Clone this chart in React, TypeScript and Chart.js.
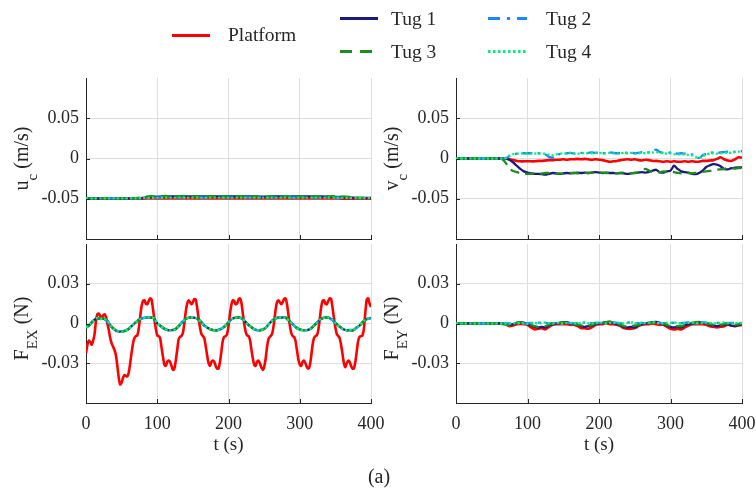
import React, { useEffect, useRef } from 'react';
import { Chart, registerables } from 'chart.js';

Chart.register(...registerables);

// ---------------- data ----------------
const seriesNames = ['Platform', 'Tug 1', 'Tug 2', 'Tug 3', 'Tug 4'];
const xTickValues = [0, 100, 200, 300, 400];
const xTickLabels = ['0', '100', '200', '300', '400'];
const velocityTicks = [-0.05, 0, 0.05];
const velocityTickLabels = ['-0.05', '0', '0.05'];
const forceTicks = [-0.03, 0, 0.03];
const forceTickLabels = ['-0.03', '0', '0.03'];

const tU = [0, 10, 20, 30, 40, 50, 60, 70, 80, 90, 100, 110, 120, 130, 140, 150, 160, 170, 180, 190, 200,
  210, 220, 230, 240, 250, 260, 270, 280, 290, 300, 310, 320, 330, 340, 350, 360, 370, 380, 390, 400];

const uPlatform = [-0.05, -0.05, -0.05, -0.05, -0.05, -0.05, -0.05, -0.0499, -0.0498, -0.0497,
  -0.0497, -0.0497, -0.0497, -0.0497, -0.0497, -0.0497, -0.0497, -0.0497, -0.0497, -0.0497,
  -0.0497, -0.0497, -0.0497, -0.0497, -0.0497, -0.0497, -0.0497, -0.0497, -0.0497, -0.0497,
  -0.0497, -0.0497, -0.0497, -0.0497, -0.0497, -0.0497, -0.0498, -0.0499, -0.0499, -0.0499, -0.0499];
const uTug1 = [-0.0495, -0.0495, -0.0495, -0.0495, -0.0495, -0.0495, -0.0495, -0.0494, -0.0488, -0.0478,
  -0.0474, -0.0472, -0.0471, -0.0472, -0.0471, -0.047, -0.0472, -0.0471, -0.047, -0.0472,
  -0.0471, -0.0472, -0.047, -0.0471, -0.0472, -0.0473, -0.0472, -0.0471, -0.0473, -0.0472,
  -0.0472, -0.0471, -0.0473, -0.0472, -0.0474, -0.0476, -0.0478, -0.0484, -0.0488, -0.049, -0.049];
const uTug2 = [-0.0495, -0.0495, -0.0495, -0.0495, -0.0495, -0.0495, -0.0495, -0.0494, -0.049, -0.0486,
  -0.0485, -0.0484, -0.0485, -0.0484, -0.0485, -0.0484, -0.0485, -0.0485, -0.0484, -0.0485,
  -0.0484, -0.0485, -0.0485, -0.0484, -0.0485, -0.0484, -0.0485, -0.0485, -0.0484, -0.0485,
  -0.0485, -0.0484, -0.0485, -0.0485, -0.0486, -0.0487, -0.0488, -0.049, -0.0492, -0.0492, -0.0492];
const uTug3 = [-0.0495, -0.0495, -0.0495, -0.0495, -0.0495, -0.0495, -0.0495, -0.0492, -0.048, -0.0468,
  -0.0474, -0.0466, -0.0472, -0.047, -0.0466, -0.0472, -0.047, -0.0472, -0.0468, -0.0472,
  -0.0474, -0.047, -0.0468, -0.0472, -0.0474, -0.047, -0.0472, -0.0474, -0.0472, -0.0468,
  -0.0474, -0.0472, -0.0468, -0.0474, -0.047, -0.0468, -0.0474, -0.0476, -0.0486, -0.049, -0.049];
const uTug4 = [-0.0496, -0.0496, -0.0496, -0.0496, -0.0496, -0.0496, -0.0496, -0.0495, -0.0491, -0.0488,
  -0.0487, -0.0486, -0.0487, -0.0486, -0.0487, -0.0486, -0.0487, -0.0486, -0.0487, -0.0486,
  -0.0487, -0.0486, -0.0487, -0.0486, -0.0487, -0.0486, -0.0487, -0.0486, -0.0487, -0.0486,
  -0.0487, -0.0486, -0.0487, -0.0486, -0.0487, -0.0486, -0.0488, -0.049, -0.0492, -0.0493, -0.0493];

const tV = [0, 5, 10, 15, 20, 25, 30, 35, 40, 45, 50, 55, 60, 65, 70, 75, 80, 85, 90, 95,
  100, 105, 110, 115, 120, 125, 130, 135, 140, 145, 150, 155, 160, 165, 170, 175, 180, 185, 190, 195,
  200, 205, 210, 215, 220, 225, 230, 235, 240, 245, 250, 255, 260, 265, 270, 275, 280, 285, 290, 295,
  300, 305, 310, 315, 320, 325, 330, 335, 340, 345, 350, 355, 360, 365, 370, 375, 380, 385, 390, 395, 400];

const vPlatform = [0, 0, 0, 0, 0, 0, 0, 0, 0, 0,
  0, 0, 0, 0, 0, -0.001, -0.002, -0.003, -0.0035, -0.0035,
  -0.0035, -0.0035, -0.0035, -0.003, -0.003, -0.0025, -0.002, -0.002, -0.0015, -0.0015,
  -0.001, -0.0015, -0.001, -0.001, -0.0005, -0.001, -0.0005, -0.001, -0.0015, -0.001,
  -0.0015, -0.002, -0.003, -0.004, -0.0035, -0.003, -0.002, -0.0015, -0.001, -0.0015,
  -0.001, -0.002, -0.0025, -0.0015, -0.002, -0.003, -0.003, -0.0035, -0.004, -0.0035,
  -0.004, -0.0035, -0.004, -0.004, -0.0035, -0.004, -0.0035, -0.004, -0.004, -0.003,
  -0.003, -0.0025, -0.002, -0.0005, 0.0015, -0.001, -0.0025, -0.003, -0.001, 0.0015, 0.001];
const vTug1 = [0, 0, 0, 0, 0, 0, 0, 0, 0, 0,
  0, 0, 0, 0, 0, -0.002, -0.005, -0.009, -0.013, -0.016,
  -0.0175, -0.0185, -0.019, -0.019, -0.0195, -0.02, -0.019, -0.018, -0.0185, -0.019,
  -0.0185, -0.018, -0.0185, -0.018, -0.0175, -0.018, -0.0175, -0.018, -0.0175, -0.017,
  -0.0175, -0.018, -0.0175, -0.018, -0.018, -0.0185, -0.018, -0.0185, -0.019, -0.0185,
  -0.018, -0.0175, -0.017, -0.0175, -0.0165, -0.015, -0.014, -0.017, -0.0175, -0.016,
  -0.015, -0.009, -0.013, -0.016, -0.017, -0.0175, -0.019, -0.0195, -0.018, -0.015,
  -0.0105, -0.0085, -0.007, -0.0075, -0.0095, -0.013, -0.0135, -0.012, -0.0115, -0.011, -0.011];
const vTug2 = [0, 0, 0, 0, 0, 0, 0, 0, 0, 0,
  0, 0, 0, 0, 0.0005, 0.003, 0.005, 0.006, 0.0065, 0.0065,
  0.0065, 0.0065, 0.006, 0.0065, 0.006, 0.005, 0.002, 0.001, 0.004, 0.0055,
  0.006, 0.0065, 0.007, 0.006, 0.0065, 0.007, 0.0065, 0.007, 0.0075, 0.007,
  0.0075, 0.0065, 0.007, 0.0075, 0.007, 0.0065, 0.007, 0.0075, 0.007, 0.0075,
  0.0065, 0.007, 0.008, 0.0075, 0.008, 0.0095, 0.011, 0.008, 0.007, 0.0065,
  0.0075, 0.0065, 0.006, 0.0065, 0.006, 0.0055, 0.005, 0.003, 0.0005, 0.004,
  0.006, 0.007, 0.0075, 0.007, 0.0075, 0.008, 0.0085, 0.008, 0.0085, 0.009, 0.009];
const vTug3 = [0, 0, 0, 0, 0, 0, 0, 0, 0, 0,
  0, 0, 0, -0.001, -0.006, -0.013, -0.0155, -0.017, -0.018, -0.0185,
  -0.019, -0.019, -0.0185, -0.019, -0.0185, -0.018, -0.018, -0.0185, -0.019, -0.0185,
  -0.019, -0.0185, -0.018, -0.018, -0.0185, -0.018, -0.0175, -0.018, -0.0175, -0.018,
  -0.0175, -0.0175, -0.018, -0.0175, -0.018, -0.0185, -0.018, -0.0175, -0.018, -0.0185,
  -0.018, -0.017, -0.015, -0.013, -0.015, -0.017, -0.0175, -0.017, -0.016, -0.0165,
  -0.016, -0.017, -0.018, -0.0185, -0.018, -0.018, -0.0185, -0.018, -0.017, -0.0165,
  -0.016, -0.0155, -0.015, -0.014, -0.0135, -0.013, -0.012, -0.012, -0.0125, -0.012, -0.012];
const vTug4 = [0, 0, 0, 0, 0, 0, 0, 0, 0, 0,
  0, 0, 0, 0, 0.001, 0.004, 0.0055, 0.006, 0.006, 0.0065,
  0.0065, 0.006, 0.006, 0.0065, 0.006, 0.006, 0.0045, 0.004, 0.005, 0.006,
  0.0065, 0.006, 0.007, 0.0065, 0.006, 0.0065, 0.007, 0.0065, 0.0065, 0.007,
  0.007, 0.0065, 0.0065, 0.007, 0.0065, 0.006, 0.0065, 0.007, 0.0065, 0.007,
  0.006, 0.0065, 0.007, 0.0065, 0.007, 0.0075, 0.008, 0.007, 0.0065, 0.006,
  0.0065, 0.0055, 0.005, 0.0055, 0.005, 0.0045, 0.004, 0.002, 0.0005, 0.003,
  0.005, 0.006, 0.0065, 0.006, 0.0065, 0.007, 0.0075, 0.007, 0.008, 0.0085, 0.0085];

const tFx = [0, 2, 4, 6, 8, 10, 12, 14, 16, 18, 20, 22, 24, 26, 28, 30, 32, 34, 36, 38,
  40, 42, 44, 46, 48, 50, 52, 54, 56, 58, 60, 62, 64, 66, 68, 70, 72, 74, 76, 78,
  80, 82, 84, 86, 88, 90, 92, 94, 96, 98, 100, 102, 104, 106, 108, 110, 112, 114, 116, 118,
  120, 122, 124, 126, 128, 130, 132, 134, 136, 138, 140, 142, 144, 146, 148, 150, 152, 154, 156, 158,
  160, 162, 164, 166, 168, 170, 172, 174, 176, 178, 180, 182, 184, 186, 188, 190, 192, 194, 196, 198,
  200, 202, 204, 206, 208, 210, 212, 214, 216, 218, 220, 222, 224, 226, 228, 230, 232, 234, 236, 238,
  240, 242, 244, 246, 248, 250, 252, 254, 256, 258, 260, 262, 264, 266, 268, 270, 272, 274, 276, 278,
  280, 282, 284, 286, 288, 290, 292, 294, 296, 298, 300, 302, 304, 306, 308, 310, 312, 314, 316, 318,
  320, 322, 324, 326, 328, 330, 332, 334, 336, 338, 340, 342, 344, 346, 348, 350, 352, 354, 356, 358,
  360, 362, 364, 366, 368, 370, 372, 374, 376, 378, 380, 382, 384, 386, 388, 390, 392, 394, 396, 398, 400];

const fxPlatform = [
  -0.0225, -0.016, -0.013, -0.014, -0.016, -0.013, -0.008, 0.002, 0.007, 0.0075,
  0.0055, 0.004, 0.006, 0.007, 0.005, 0.0, -0.005, -0.011, -0.015, -0.0175,
  -0.02, -0.024, -0.032, -0.041, -0.046, -0.0445, -0.041, -0.039, -0.0395, -0.04,
  -0.037, -0.03, -0.022, -0.015, -0.011, -0.0095, -0.009, -0.004, 0.005, 0.013,
  0.017, 0.0175, 0.015, 0.0145, 0.017, 0.019, 0.018, 0.011, 0.003, -0.004,
  -0.009, -0.0095, -0.011, -0.018, -0.025, -0.031, -0.032, -0.029, -0.028, -0.029,
  -0.032, -0.035, -0.034, -0.028, -0.02, -0.012, -0.01, -0.0095, -0.007, 0.0,
  0.009, 0.015, 0.0175, 0.016, 0.0145, 0.016, 0.0185, 0.018, 0.012, 0.004,
  -0.003, -0.008, -0.0095, -0.011, -0.017, -0.024, -0.03, -0.032, -0.029, -0.028,
  -0.029, -0.032, -0.034, -0.034, -0.029, -0.021, -0.013, -0.01, -0.0095, -0.008,
  -0.002, 0.007, 0.014, 0.0175, 0.017, 0.0145, 0.015, 0.018, 0.019, 0.016,
  0.008, 0.0, -0.006, -0.009, -0.0095, -0.012, -0.019, -0.026, -0.031, -0.032,
  -0.029, -0.028, -0.03, -0.033, -0.035, -0.033, -0.027, -0.018, -0.012, -0.01,
  -0.009, -0.006, 0.001, 0.01, 0.016, 0.0175, 0.016, 0.0145, 0.016, 0.0185,
  0.019, 0.015, 0.007, -0.001, -0.007, -0.0095, -0.01, -0.013, -0.02, -0.027,
  -0.031, -0.032, -0.029, -0.028, -0.03, -0.033, -0.034, -0.032, -0.025, -0.016,
  -0.011, -0.0095, -0.009, -0.005, 0.003, 0.012, 0.017, 0.0175, 0.015, 0.0145,
  0.017, 0.019, 0.0185, 0.012, 0.004, -0.003, -0.008, -0.0095, -0.011, -0.016,
  -0.023, -0.03, -0.033, -0.03, -0.028, -0.029, -0.032, -0.034, -0.034, -0.029,
  -0.021, -0.013, -0.01, -0.0095, -0.009, -0.004, 0.008, 0.018, 0.019, 0.015, 0.0125];

const fxTug1 = [-0.003, -0.001, 0.002, 0.004, 0.0035, 0.0035, 0.002, -0.002, -0.0045, -0.006,
  -0.006, -0.0055, -0.004, -0.0015, 0.001, 0.003, 0.004, 0.0045, 0.0045, 0.004,
  0.0, -0.002, -0.004, -0.005, -0.005, -0.0045, -0.002, 0.001, 0.0035, 0.0045,
  0.0045, 0.004, 0.002, -0.001, -0.003, -0.0045, -0.005, -0.005, -0.004, -0.002,
  0.001, 0.0035, 0.0045, 0.0045, 0.0035, 0.0005, -0.002, -0.004, -0.005, -0.005,
  -0.004, -0.0015, 0.0015, 0.0035, 0.0045, 0.0045, 0.0045, 0.002, -0.0005, -0.003,
  -0.0045, -0.005, -0.005, -0.004, -0.0015, 0.001, 0.0035, 0.0045, 0.0045, 0.003,
  0.0005, -0.002, -0.004, -0.005, -0.005, -0.005, -0.003, -0.001, 0.002, 0.0035, 0.004];
const fxTug2 = [-0.0028, -0.001, 0.0022, 0.0042, 0.0036, 0.0034, 0.0018, -0.0022, -0.0046, -0.0058,
  -0.006, -0.0054, -0.0038, -0.0014, 0.0012, 0.0032, 0.0042, 0.0046, 0.0044, 0.0038,
  0.0002, -0.0022, -0.0042, -0.005, -0.0048, -0.0044, -0.0018, 0.0012, 0.0036, 0.0046,
  0.0044, 0.0038, 0.0018, -0.0012, -0.0032, -0.0046, -0.005, -0.0048, -0.0038, -0.0018,
  0.0012, 0.0036, 0.0046, 0.0044, 0.0034, 0.0004, -0.0022, -0.0042, -0.005, -0.0048,
  -0.0038, -0.0014, 0.0016, 0.0036, 0.0046, 0.0044, 0.0044, 0.0018, -0.0006, -0.0032,
  -0.0046, -0.005, -0.0048, -0.0038, -0.0014, 0.0012, 0.0036, 0.0046, 0.0044, 0.0028,
  0.0004, -0.0022, -0.0042, -0.005, -0.0048, -0.0048, -0.0028, -0.0008, 0.0022, 0.0036, 0.0042];
const fxTug3 = [-0.0032, -0.0012, 0.0018, 0.0038, 0.0034, 0.0036, 0.0022, -0.0018, -0.0044, -0.0062,
  -0.0062, -0.0056, -0.0042, -0.0016, 0.0008, 0.0028, 0.0038, 0.0044, 0.0046, 0.0042,
  0.0002, -0.0018, -0.0038, -0.0052, -0.0052, -0.0046, -0.0022, 0.0008, 0.0034, 0.0044,
  0.0046, 0.0042, 0.0022, -0.0008, -0.0028, -0.0044, -0.0052, -0.0052, -0.0042, -0.0022,
  0.0008, 0.0034, 0.0044, 0.0046, 0.0036, 0.0006, -0.0018, -0.0038, -0.0052, -0.0052,
  -0.0042, -0.0016, 0.0014, 0.0034, 0.0044, 0.0046, 0.0046, 0.0022, -0.0004, -0.0028,
  -0.0044, -0.0052, -0.0052, -0.0042, -0.0016, 0.0008, 0.0034, 0.0044, 0.0046, 0.0032,
  0.0006, -0.0018, -0.0038, -0.0052, -0.0052, -0.0052, -0.0032, -0.0012, 0.0018, 0.0034, 0.0038];
const fxTug4 = [-0.003, -0.0011, 0.002, 0.004, 0.0036, 0.0035, 0.002, -0.002, -0.0045, -0.006,
  -0.0061, -0.0055, -0.004, -0.0015, 0.001, 0.003, 0.004, 0.0045, 0.0045, 0.004,
  0.0001, -0.002, -0.004, -0.0051, -0.005, -0.0045, -0.002, 0.001, 0.0035, 0.0045,
  0.0045, 0.004, 0.002, -0.001, -0.003, -0.0045, -0.0051, -0.005, -0.004, -0.002,
  0.001, 0.0035, 0.0045, 0.0045, 0.0035, 0.0005, -0.002, -0.004, -0.0051, -0.005,
  -0.004, -0.0015, 0.0015, 0.0035, 0.0045, 0.0045, 0.0045, 0.002, -0.0005, -0.003,
  -0.0045, -0.0051, -0.005, -0.004, -0.0015, 0.001, 0.0035, 0.0045, 0.0045, 0.003,
  0.0005, -0.002, -0.004, -0.0051, -0.005, -0.005, -0.003, -0.001, 0.002, 0.0035, 0.004];

const fyPlatform = [0, 0, 0, 0, 0, 0, 0, 0, 0, 0,
  0, 0, 0, 0, -0.0005, -0.002, -0.0015, -0.0005, -0.0003, -0.0005,
  -0.001, -0.003, -0.0045, -0.004, -0.0035, -0.0045, -0.0025, -0.001, -0.0005, -0.0005,
  -0.0005, -0.0005, -0.001, -0.001, -0.002, -0.0035, -0.0035, -0.004, -0.003, -0.001,
  -0.0005, -0.0005, 0.0, -0.0005, -0.0005, -0.001, -0.002, -0.0035, -0.004, -0.004,
  -0.0035, -0.002, -0.001, -0.0005, -0.0005, 0.0, -0.0005, -0.001, -0.001, -0.0025,
  -0.004, -0.0045, -0.004, -0.0045, -0.003, -0.0015, -0.0005, -0.0005, -0.0005, -0.0005,
  -0.001, -0.002, -0.0025, -0.003, -0.0025, -0.002, -0.001, -0.0015, -0.002, -0.0015, -0.001];
const fyTug1 = [0, 0, 0, 0, 0, 0, 0, 0, 0, 0,
  0, 0, 0, 0, -0.0003, -0.001, -0.0005, 0.0005, 0.001, 0.0005,
  -0.0005, -0.0015, -0.0025, -0.003, -0.0025, -0.003, -0.0015, -0.0005, 0.0, 0.0005,
  0.001, 0.001, 0.0, -0.0005, -0.001, -0.002, -0.0025, -0.002, -0.0015, -0.0005,
  0.0, 0.0005, 0.001, 0.001, 0.0005, -0.0005, -0.0015, -0.0025, -0.003, -0.0025,
  -0.003, -0.0015, -0.0005, 0.0, 0.0005, 0.001, 0.0012, 0.0005, -0.0005, -0.0015,
  -0.0025, -0.003, -0.0025, -0.003, -0.0015, -0.0005, 0.0, 0.0005, 0.001, 0.0005,
  0.0, -0.001, -0.0015, -0.002, -0.0015, -0.001, -0.0005, -0.0015, -0.002, -0.001, -0.0005];
const fyTug2 = [0, 0, 0, 0, 0, 0, 0, 0, 0, 0,
  0, 0, 0, 0, 0, 0, 0, 0.0005, 0.0, -0.0003,
  0.0, 0.0005, 0.0, 0.0005, 0.001, 0.0005, 0.0, 0.0003, 0.0005, 0.0,
  0.0003, 0.0005, 0.0003, 0.0, 0.0005, 0.0008, 0.0005, 0.0, 0.0003, 0.0005,
  0.0005, 0.0, 0.0003, 0.0005, 0.0008, 0.0005, 0.0, 0.0005, 0.0008, 0.0005,
  0.0, 0.0003, 0.0005, 0.0, 0.0003, 0.0005, 0.0008, 0.0005, 0.0, 0.0005,
  0.0008, 0.0005, 0.0, 0.0003, 0.0005, 0.0008, 0.0005, 0.0, 0.0005, 0.0008,
  0.0005, 0.0, 0.0003, 0.0005, 0.0005, 0.0, 0.0003, 0.0005, 0.0005, 0.0, 0.0005];
const fyTug3 = [0, 0, 0, 0, 0, 0, 0, 0, 0, 0,
  0, 0, 0, -0.0005, -0.001, -0.0015, -0.0005, 0.0005, 0.001, 0.0005,
  0.0, -0.001, -0.002, -0.0025, -0.002, -0.002, -0.001, 0.0, 0.0005, 0.0005,
  0.001, 0.0005, 0.0, -0.0005, -0.001, -0.0015, -0.002, -0.0015, -0.001, 0.0,
  0.0005, 0.0005, 0.001, 0.0015, 0.0005, 0.0, -0.001, -0.002, -0.0025, -0.002,
  -0.0015, -0.001, 0.0, 0.0005, 0.0005, 0.001, 0.001, 0.0005, 0.0, -0.001,
  -0.002, -0.0025, -0.002, -0.002, -0.001, 0.0, 0.0005, 0.001, 0.0012, 0.0005,
  0.0, -0.0005, -0.001, -0.0015, -0.001, -0.0005, 0.0, -0.0005, -0.001, -0.0005, 0.0];
const fyTug4 = [0, 0, 0, 0, 0, 0, 0, 0, 0, 0,
  0, 0, 0, 0, 0, 0, 0.0003, 0.0, 0.0005, 0.0,
  -0.0003, 0.0003, 0.0005, 0.0, 0.0005, 0.0008, 0.0003, 0.0, 0.0005, 0.0003,
  0.0, 0.0005, 0.0005, 0.0003, 0.0, 0.0005, 0.0008, 0.0003, 0.0, 0.0005,
  0.0003, 0.0005, 0.0, 0.0005, 0.0005, 0.0008, 0.0003, 0.0, 0.0005, 0.0008,
  0.0003, 0.0, 0.0005, 0.0003, 0.0005, 0.0008, 0.0005, 0.0, 0.0003, 0.0005,
  0.0005, 0.0008, 0.0003, 0.0, 0.0005, 0.0005, 0.0008, 0.0003, 0.0, 0.0005,
  0.0008, 0.0005, 0.0, 0.0003, 0.0005, 0.0008, 0.0005, 0.0, 0.0003, 0.0005, 0.0005];

// ---------------- styles & layout ----------------
const FONT = "'Liberation Serif', 'Times New Roman', Times, serif";
const TEXT = '#262626';
const GRID = '#dedede';
const TICK_SIZE = 18;

const lineStyles = [
  { color: '#ff0000', width: 2.6, dash: [] as number[], svgDash: '' },
  { color: '#1b1b7c', width: 2.3, dash: [] as number[], svgDash: '' },
  { color: '#1c86ff', width: 2.3, dash: [10, 5, 2.5, 5], svgDash: '12 7 3 7' },
  { color: '#1e8c1e', width: 2.3, dash: [9, 6], svgDash: '12 8' },
  { color: '#00f27a', width: 2.3, dash: [2.2, 2.2], svgDash: '2.5 2.5' },
];

const legendLayout = [
  { x1: 172, x2: 210, y: 35.5, tx: 228, ty: 40.5 },
  { x1: 340, x2: 378, y: 18.5, tx: 391, ty: 25 },
  { x1: 488, x2: 527, y: 18.5, tx: 546, ty: 25 },
  { x1: 340, x2: 378, y: 51.5, tx: 391, ty: 57.5 },
  { x1: 488, x2: 527, y: 51.5, tx: 546, ty: 57.5 },
];

type Series = { t: number[]; v: number[] };
type PanelDef = {
  id: string;
  canvas: { left: number; top: number; width: number; height: number };
  plot: { x0: number; x1: number; y0: number; y1: number };
  yMin: number; yMax: number; yTicks: number[]; yTickLabels: string[];
  showX: boolean;
  label: { main: string; sub: string; rest: string; offset: number };
  series: Series[];
};

const panels: PanelDef[] = [
  {
    id: 'uc', canvas: { left: 0, top: 50, width: 420, height: 215 }, plot: { x0: 86, x1: 371, y0: 78, y1: 239 },
    yMin: -0.1, yMax: 0.1, yTicks: velocityTicks, yTickLabels: velocityTickLabels, showX: false,
    label: { main: 'u', sub: 'c', rest: ' (m/s)', offset: 0 },
    series: [{ t: tU, v: uPlatform }, { t: tU, v: uTug1 }, { t: tU, v: uTug2 }, { t: tU, v: uTug3 }, { t: tU, v: uTug4 }],
  },
  {
    id: 'vc', canvas: { left: 370, top: 50, width: 420, height: 215 }, plot: { x0: 456, x1: 742, y0: 78, y1: 239 },
    yMin: -0.1, yMax: 0.1, yTicks: velocityTicks, yTickLabels: velocityTickLabels, showX: false,
    label: { main: 'v', sub: 'c', rest: ' (m/s)', offset: 0 },
    series: [{ t: tV, v: vPlatform }, { t: tV, v: vTug1 }, { t: tV, v: vTug2 }, { t: tV, v: vTug3 }, { t: tV, v: vTug4 }],
  },
  {
    id: 'fex', canvas: { left: 0, top: 215, width: 420, height: 260 }, plot: { x0: 86, x1: 371, y0: 244, y1: 403 },
    yMin: -0.06, yMax: 0.06, yTicks: forceTicks, yTickLabels: forceTickLabels, showX: true,
    label: { main: 'F', sub: 'EX', rest: ' (N)', offset: 5 },
    series: [{ t: tFx, v: fxPlatform }, { t: tV, v: fxTug1 }, { t: tV, v: fxTug2 }, { t: tV, v: fxTug3 }, { t: tV, v: fxTug4 }],
  },
  {
    id: 'fey', canvas: { left: 370, top: 215, width: 420, height: 260 }, plot: { x0: 456, x1: 742, y0: 244, y1: 403 },
    yMin: -0.06, yMax: 0.06, yTicks: forceTicks, yTickLabels: forceTickLabels, showX: true,
    label: { main: 'F', sub: 'EY', rest: ' (N)', offset: 5 },
    series: [{ t: tV, v: fyPlatform }, { t: tV, v: fyTug1 }, { t: tV, v: fyTug2 }, { t: tV, v: fyTug3 }, { t: tV, v: fyTug4 }],
  },
];

function makeChart(canvas: HTMLCanvasElement, def: PanelDef) {
  const { canvas: box, plot } = def;
  const padTop = plot.y0 - box.top;
  const padRight = box.left + box.width - plot.x1;
  const yAxisWidth = plot.x0 - box.left;
  const xAxisHeight = box.top + box.height - plot.y1;

  const decor = {
    id: 'panelDecor',
    afterDraw(chart: any) {
      const ctx: CanvasRenderingContext2D = chart.ctx;
      const a = chart.chartArea;
      const xs = chart.scales.x;
      const ys = chart.scales.y;
      ctx.save();
      // inward tick marks
      ctx.strokeStyle = TEXT;
      ctx.lineWidth = 1;
      ctx.beginPath();
      xTickValues.forEach((v) => {
        const px = Math.round(xs.getPixelForValue(v)) + 0.5;
        ctx.moveTo(px, a.bottom);
        ctx.lineTo(px, a.bottom - 4);
      });
      def.yTicks.forEach((v) => {
        const py = Math.round(ys.getPixelForValue(v)) + 0.5;
        ctx.moveTo(a.left, py);
        ctx.lineTo(a.left + 4, py);
      });
      ctx.stroke();

      // y-axis title with subscript
      ctx.fillStyle = TEXT;
      const mainFont = `20px ${FONT}`;
      const subFont = `15px ${FONT}`;
      ctx.font = mainFont;
      const w1 = ctx.measureText(def.label.main).width;
      const w3 = ctx.measureText(def.label.rest).width;
      ctx.font = subFont;
      const w2 = ctx.measureText(def.label.sub).width;
      const total = w1 + w2 + w3;
      const cy = (a.top + a.bottom) / 2 + def.label.offset;
      ctx.save();
      ctx.translate(a.left - 58, cy + total / 2);
      ctx.rotate(-Math.PI / 2);
      ctx.textAlign = 'left';
      ctx.textBaseline = 'alphabetic';
      ctx.font = mainFont;
      ctx.fillText(def.label.main, 0, 0);
      ctx.font = subFont;
      ctx.fillText(def.label.sub, w1, 9);
      ctx.font = mainFont;
      ctx.fillText(def.label.rest, w1 + w2, 0);
      ctx.restore();

      // x-axis title
      if (def.showX) {
        ctx.font = `19px ${FONT}`;
        ctx.textAlign = 'center';
        ctx.textBaseline = 'alphabetic';
        ctx.fillText('t (s)', (a.left + a.right) / 2, a.bottom + 47);
      }
      ctx.restore();
    },
  };

  const datasets = def.series.map((s, i) => ({
    label: seriesNames[i],
    data: s.t.map((t, j) => ({ x: t, y: s.v[j] })),
    borderColor: lineStyles[i].color,
    backgroundColor: lineStyles[i].color,
    borderWidth: lineStyles[i].width,
    borderDash: lineStyles[i].dash,
    pointRadius: 0,
    pointHoverRadius: 0,
    tension: 0.25,
    fill: false,
    order: 4 - i,
  }));

  return new Chart(canvas, {
    type: 'line',
    data: { datasets },
    options: {
      responsive: false,
      maintainAspectRatio: false,
      animation: false,
      devicePixelRatio: 1,
      events: [],
      layout: { autoPadding: false, padding: { left: 0, top: padTop, right: padRight, bottom: 0 } },
      plugins: { legend: { display: false }, tooltip: { enabled: false }, title: { display: false } },
      scales: {
        x: {
          type: 'linear',
          min: 0,
          max: 400,
          afterBuildTicks: (s: any) => { s.ticks = xTickValues.map((v) => ({ value: v })); },
          afterFit: (s: any) => { s.height = xAxisHeight; },
          grid: { color: GRID, lineWidth: 1, drawTicks: false },
          border: { display: true, color: TEXT, width: 1 },
          ticks: {
            display: def.showX,
            padding: 10,
            autoSkip: false,
            maxRotation: 0,
            color: TEXT,
            font: { family: FONT, size: TICK_SIZE },
            callback: (_v: any, idx: number) => xTickLabels[idx],
          },
        },
        y: {
          type: 'linear',
          min: def.yMin,
          max: def.yMax,
          afterBuildTicks: (s: any) => { s.ticks = def.yTicks.map((v) => ({ value: v })); },
          afterFit: (s: any) => { s.width = yAxisWidth; },
          grid: { color: GRID, lineWidth: 1, drawTicks: false },
          border: { display: true, color: TEXT, width: 1 },
          ticks: {
            padding: 7,
            autoSkip: false,
            color: TEXT,
            font: { family: FONT, size: TICK_SIZE },
            callback: (_v: any, idx: number) => def.yTickLabels[idx],
          },
        },
      },
    } as any,
    plugins: [decor],
  });
}

function PanelChart({ def }: { def: PanelDef }) {
  const ref = useRef<HTMLCanvasElement>(null);
  useEffect(() => {
    if (!ref.current) return;
    const chart = makeChart(ref.current, def);
    return () => chart.destroy();
  }, [def]);
  return (
    <canvas
      ref={ref}
      width={def.canvas.width}
      height={def.canvas.height}
      style={{
        position: 'absolute',
        left: def.canvas.left,
        top: def.canvas.top,
        width: def.canvas.width,
        height: def.canvas.height,
      }}
    />
  );
}

export default function App() {
  useEffect(() => {
    document.body.style.margin = '0';
  }, []);
  return (
    <div
      style={{
        position: 'absolute',
        left: 0,
        top: 0,
        width: 756,
        height: 494,
        overflow: 'hidden',
        background: '#ffffff',
      }}
    >
      {panels.map((p) => (
        <PanelChart key={p.id} def={p} />
      ))}
      <svg width={756} height={494} style={{ position: 'absolute', left: 0, top: 0, pointerEvents: 'none' }}>
        {seriesNames.map((name, i) => {
          const L = legendLayout[i];
          const s = lineStyles[i];
          return (
            <g key={name}>
              <line
                x1={L.x1}
                x2={L.x2}
                y1={L.y}
                y2={L.y}
                stroke={s.color}
                strokeWidth={2.8}
                strokeDasharray={s.svgDash || undefined}
              />
              <text x={L.tx} y={L.ty} fontFamily={FONT} fontSize={19.5} fill={TEXT}>
                {name}
              </text>
            </g>
          );
        })}
        <text x={379} y={483} textAnchor="middle" fontFamily={FONT} fontSize={20} fill={TEXT}>
          (a)
        </text>
      </svg>
    </div>
  );
}
